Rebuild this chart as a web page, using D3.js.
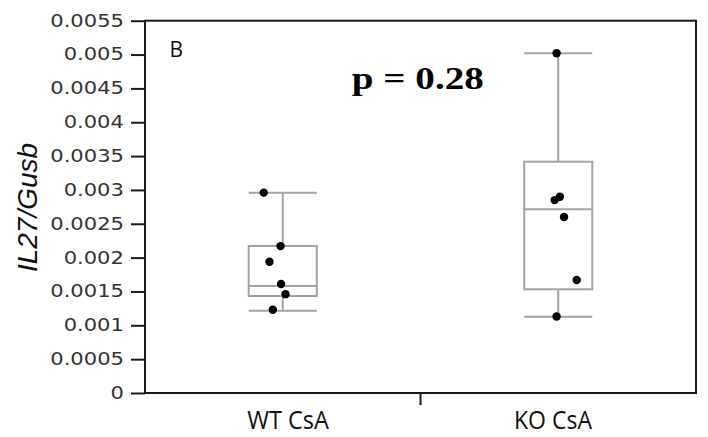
<!DOCTYPE html>
<html lang="en">
<head>
    <meta charset="UTF-8">
    <title>IL27/Gusb box plot</title>
    <script src="https://d3js.org/d3.v7.min.js"></script>
    <style>
        body { margin: 0; background: #fff; }
        .tick-label { font-family: "DejaVu Sans", sans-serif; font-size: 17px; fill: #333; }
        .cat-label { font-family: "Open Sans", sans-serif; font-size: 26px; fill: #111; }
    </style>
</head>
<body>
<svg id="chart"></svg>
<script>
    // data
    const categories = ["WT CsA", "KO CsA"];
    // box stats: [lower whisker, q1, median, q3, upper whisker]
    const wtBox = [0.001216, 0.001433, 0.001581, 0.002172, 0.002959];
    const koBox = [0.001127, 0.001532, 0.002714, 0.003417, 0.005018];
    const wtPoints = [0.00296, 0.00217, 0.00194, 0.00161, 0.00146, 0.00123];
    const koPoints = [0.00502, 0.00290, 0.00285, 0.00260, 0.00167, 0.00113];
    // horizontal jitter of dots, as a fraction of the band width
    const wtJitter = [-0.069, -0.008, -0.048, -0.006, 0.010, -0.036];
    const koJitter = [-0.006, 0.006, -0.013, 0.021, 0.067, -0.006];
    const yTicks = [0, 0.0005, 0.001, 0.0015, 0.002, 0.0025, 0.003, 0.0035, 0.004, 0.0045, 0.005, 0.0055];
    const yTickLabels = ["0", "0.0005", "0.001", "0.0015", "0.002", "0.0025", "0.003", "0.0035", "0.004", "0.0045", "0.005", "0.0055"];

    const groups = [
        { name: categories[0], box: wtBox, points: wtPoints, jitter: wtJitter },
        { name: categories[1], box: koBox, points: koPoints, jitter: koJitter }
    ];

    const W = 708, H = 437;
    const plotL = 145, plotR = 696, plotT = 20.7, plotB = 393;

    const svg = d3.select("#chart").attr("width", W).attr("height", H);

    const x = d3.scaleBand().domain(categories).range([plotL, plotR]).padding(0);
    const xLab = d3.scalePoint().domain(categories).range([plotL, plotR]).padding(0.54);
    const y = d3.scaleLinear().domain([0, 0.0055]).range([plotB, plotT]);

    const boxW = x.bandwidth() * 0.247;

    // boxes
    const g = svg.selectAll(".grp").data(groups).enter().append("g").attr("class", "grp");
    g.each(function (d) {
        const s = d3.select(this);
        const cx = x(d.name) + x.bandwidth() / 2;
        const [lo, q1, med, q3, hi] = d.box;
        const col = "#a3a3a3";
        s.append("line").attr("x1", cx).attr("x2", cx).attr("y1", y(hi)).attr("y2", y(q3))
            .attr("stroke", col).attr("stroke-width", 2);
        s.append("line").attr("x1", cx).attr("x2", cx).attr("y1", y(q1)).attr("y2", y(lo))
            .attr("stroke", col).attr("stroke-width", 2);
        [hi, lo].forEach(v => {
            s.append("line").attr("x1", cx - boxW / 2).attr("x2", cx + boxW / 2)
                .attr("y1", y(v)).attr("y2", y(v)).attr("stroke", col).attr("stroke-width", 2);
        });
        s.append("rect").attr("x", cx - boxW / 2).attr("y", y(q3))
            .attr("width", boxW).attr("height", y(q1) - y(q3))
            .attr("fill", "none").attr("stroke", col).attr("stroke-width", 2);
        s.append("line").attr("x1", cx - boxW / 2).attr("x2", cx + boxW / 2)
            .attr("y1", y(med)).attr("y2", y(med)).attr("stroke", col).attr("stroke-width", 2);
    });

    // dots
    g.each(function (d) {
        const cx = x(d.name) + x.bandwidth() / 2;
        d3.select(this).selectAll("circle").data(d.points).enter().append("circle")
            .attr("cx", (v, i) => cx + d.jitter[i] * x.bandwidth())
            .attr("cy", v => y(v))
            .attr("r", 4.2)
            .attr("fill", "#000");
    });

    // frame
    svg.append("rect").attr("x", plotL).attr("y", plotT)
        .attr("width", plotR - plotL).attr("height", plotB - plotT)
        .attr("fill", "none").attr("stroke", "#1a1a1a").attr("stroke-width", 2);

    // y axis
    const yAxis = svg.append("g").attr("transform", `translate(${plotL},0)`)
        .call(d3.axisLeft(y).tickValues(yTicks).tickSize(14).tickPadding(3)
            .tickFormat((d, i) => yTickLabels[i]));
    yAxis.select(".domain").remove();
    yAxis.attr("font-family", null).attr("font-size", null);
    yAxis.selectAll(".tick line").attr("stroke", "#1a1a1a").attr("stroke-width", 2);
    yAxis.selectAll(".tick text")
        .attr("class", "tick-label")
        .attr("fill", null)
        .attr("x", -17)
        .attr("transform", "scale(1.24,1)");

    // x axis: single tick between the two groups
    svg.append("line")
        .attr("x1", x(categories[1])).attr("x2", x(categories[1]))
        .attr("y1", plotB).attr("y2", plotB + 12)
        .attr("stroke", "#1a1a1a").attr("stroke-width", 2);

    const labLen = [81.7, 78];
    svg.selectAll(".cat-label").data(categories).enter().append("text")
        .attr("class", "cat-label")
        .attr("x", d => xLab(d))
        .attr("y", 429.3)
        .attr("text-anchor", "middle")
        .attr("textLength", (d, i) => labLen[i])
        .attr("lengthAdjust", "spacingAndGlyphs")
        .text(d => d);

    // y title
    svg.append("text")
        .attr("transform", "translate(36.5,207.5) rotate(-90)")
        .attr("text-anchor", "middle")
        .attr("font-family", "'Liberation Sans', sans-serif")
        .attr("font-style", "italic")
        .attr("font-size", 27)
        .attr("fill", "#111")
        .attr("textLength", 129)
        .attr("lengthAdjust", "spacingAndGlyphs")
        .text("IL27/Gusb");

    // panel letter
    svg.append("text")
        .attr("x", 169.6).attr("y", 57)
        .attr("font-family", "'Open Sans', sans-serif")
        .attr("font-size", 21)
        .attr("fill", "#111")
        .text("B");

    // p value
    svg.append("text")
        .attr("x", 351.8).attr("y", 89)
        .attr("font-family", "'Liberation Serif', serif")
        .attr("font-weight", "bold")
        .attr("font-size", 31)
        .attr("fill", "#000")
        .attr("textLength", 132)
        .attr("lengthAdjust", "spacingAndGlyphs")
        .text("p = 0.28");
</script>
</body>
</html>
